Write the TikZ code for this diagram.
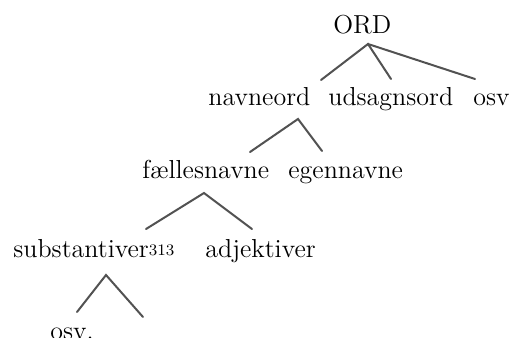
\documentclass[tikz,border=0pt]{standalone}
\usepackage{fontspec}
\begin{document}
\begin{tikzpicture}[x=0.5pt,y=-0.5pt,
  word/.style={anchor=base west,inner sep=0pt,text=black,font=\fontsize{13}{15}\selectfont},
  branch/.style={draw=black!68,line width=1pt,line cap=round}]
\useasboundingbox (0,0) rectangle (512,337);
% words
\node[word] (ord) at (333,33) {ORD};
\node[word] (navneord) at (208,105) {navneord};
\node[word] (udsagnsord) at (328,105) {udsagnsord};
\node[word] (osvA) at (473,105) {osv};
\node[word] (faelles) at (142,178) {fællesnavne};
\node[word] (egen) at (288,178) {egennavne};
\node[word] (subst) at (13,257) {substantiver\raisebox{0.6pt}{\fontsize{8}{8}\selectfont 313}};
\node[word] (adj) at (205,257) {adjektiver};
\node[word] (osvB) at (50,339) {osv.};
% branch points
\coordinate (a1) at (368,44);
\coordinate (e11) at (321,80);
\coordinate (e12) at (391,79);
\coordinate (e13) at (475,79);
\coordinate (a2) at (298,119);
\coordinate (e21) at (250,152);
\coordinate (e22) at (322,151);
\coordinate (a3) at (204,193);
\coordinate (e31) at (146,229);
\coordinate (e32) at (252,229);
\coordinate (a4) at (106,275);
\coordinate (e41) at (77,312);
\coordinate (e42) at (143,317);
% branches
\draw[branch] (e11) -- (a1) -- (e12);
\draw[branch] (a1) -- (e13);
\draw[branch] (e21) -- (a2) -- (e22);
\draw[branch] (e31) -- (a3) -- (e32);
\draw[branch] (e41) -- (a4) -- (e42);
\end{tikzpicture}
\end{document}
